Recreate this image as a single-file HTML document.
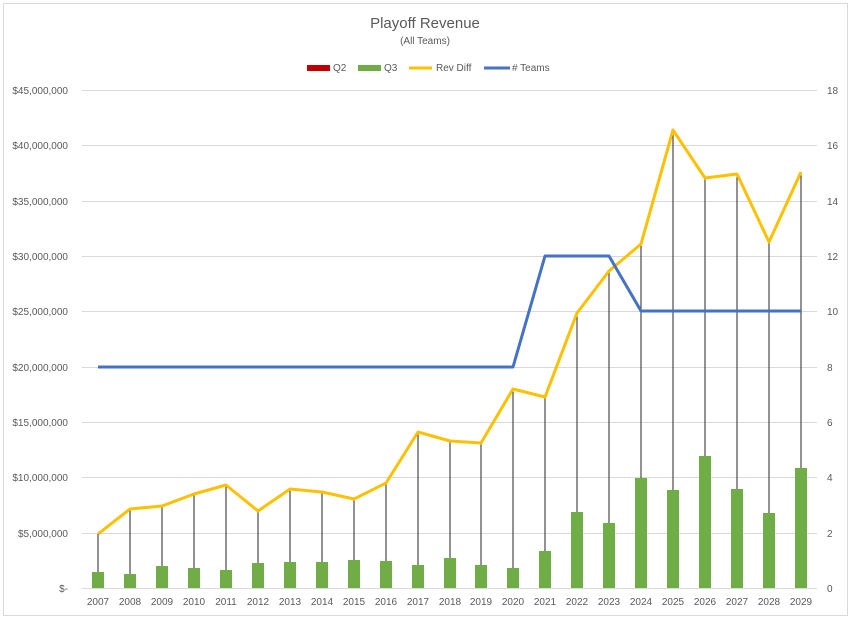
<!DOCTYPE html>
<html><head><meta charset="utf-8"><style>
body{margin:0;background:#fff}
svg text{font-family:"Liberation Sans",sans-serif;fill:#595959}
</style></head><body>
<svg width="851" height="619" viewBox="0 0 851 619" xmlns="http://www.w3.org/2000/svg">
<rect x="3.5" y="3.5" width="844" height="612" fill="#fff" stroke="#d9d9d9"/>
<text x="425" y="28" font-size="15" text-anchor="middle">Playoff Revenue</text>
<text x="425" y="44" font-size="10" text-anchor="middle">(All Teams)</text>
<rect x="307" y="65" width="23" height="6" fill="#c00000"/><text x="333" y="71" font-size="10">Q2</text>
<rect x="358" y="65" width="23" height="6" fill="#70ad47"/><text x="384" y="71" font-size="10">Q3</text>
<line x1="409" y1="68" x2="432" y2="68" stroke="#ffc000" stroke-width="3"/><text x="436" y="71" font-size="10">Rev Diff</text>
<line x1="484" y1="68" x2="510" y2="68" stroke="#4472c4" stroke-width="3"/><text x="512" y="71" font-size="10"># Teams</text>
<g stroke="#d9d9d9" stroke-width="1">
<line x1="82" x2="817" y1="90.5" y2="90.5"/><line x1="82" x2="817" y1="145.5" y2="145.5"/><line x1="82" x2="817" y1="201.5" y2="201.5"/><line x1="82" x2="817" y1="256.5" y2="256.5"/><line x1="82" x2="817" y1="311.5" y2="311.5"/><line x1="82" x2="817" y1="367.5" y2="367.5"/><line x1="82" x2="817" y1="422.5" y2="422.5"/><line x1="82" x2="817" y1="477.5" y2="477.5"/><line x1="82" x2="817" y1="533.5" y2="533.5"/><line x1="82" x2="817" y1="588.5" y2="588.5"/>
</g>
<g font-size="10" text-anchor="end">
<text x="68" y="94">$45,000,000</text><text x="68" y="149">$40,000,000</text><text x="68" y="205">$35,000,000</text><text x="68" y="260">$30,000,000</text><text x="68" y="315">$25,000,000</text><text x="68" y="371">$20,000,000</text><text x="68" y="426">$15,000,000</text><text x="68" y="481">$10,000,000</text><text x="68" y="537">$5,000,000</text><text x="68" y="592">$-</text>
</g>
<g font-size="10">
<text x="827" y="94">18</text><text x="827" y="149">16</text><text x="827" y="205">14</text><text x="827" y="260">12</text><text x="827" y="315">10</text><text x="827" y="371">8</text><text x="827" y="426">6</text><text x="827" y="481">4</text><text x="827" y="537">2</text><text x="827" y="592">0</text>
</g>
<g stroke="#262626" stroke-width="1">
<line x1="98" x2="98" y1="534" y2="588"/><line x1="130" x2="130" y1="509" y2="588"/><line x1="162" x2="162" y1="506" y2="588"/><line x1="194" x2="194" y1="494" y2="588"/><line x1="226" x2="226" y1="485" y2="588"/><line x1="258" x2="258" y1="511" y2="588"/><line x1="290" x2="290" y1="489" y2="588"/><line x1="322" x2="322" y1="492" y2="588"/><line x1="354" x2="354" y1="499" y2="588"/><line x1="386" x2="386" y1="483" y2="588"/><line x1="418" x2="418" y1="432" y2="588"/><line x1="450" x2="450" y1="441" y2="588"/><line x1="481" x2="481" y1="443" y2="588"/><line x1="513" x2="513" y1="389" y2="588"/><line x1="545" x2="545" y1="397" y2="588"/><line x1="577" x2="577" y1="313" y2="588"/><line x1="609" x2="609" y1="271" y2="588"/><line x1="641" x2="641" y1="244" y2="588"/><line x1="673" x2="673" y1="130" y2="588"/><line x1="705" x2="705" y1="178" y2="588"/><line x1="737" x2="737" y1="174" y2="588"/><line x1="769" x2="769" y1="242" y2="588"/><line x1="801" x2="801" y1="172" y2="588"/>
</g>
<g fill="#70ad47">
<rect x="92" y="572" width="12" height="16"/><rect x="124" y="574" width="12" height="14"/><rect x="156" y="566" width="12" height="22"/><rect x="188" y="568" width="12" height="20"/><rect x="220" y="570" width="12" height="18"/><rect x="252" y="563" width="12" height="25"/><rect x="284" y="562" width="12" height="26"/><rect x="316" y="562" width="12" height="26"/><rect x="348" y="560" width="12" height="28"/><rect x="380" y="561" width="12" height="27"/><rect x="412" y="565" width="12" height="23"/><rect x="444" y="558" width="12" height="30"/><rect x="475" y="565" width="12" height="23"/><rect x="507" y="568" width="12" height="20"/><rect x="539" y="551" width="12" height="37"/><rect x="571" y="512" width="12" height="76"/><rect x="603" y="523" width="12" height="65"/><rect x="635" y="478" width="12" height="110"/><rect x="667" y="490" width="12" height="98"/><rect x="699" y="456" width="12" height="132"/><rect x="731" y="489" width="12" height="99"/><rect x="763" y="513" width="12" height="75"/><rect x="795" y="468" width="12" height="120"/>
</g>
<polyline fill="none" stroke="#ffc000" stroke-width="3" stroke-linejoin="round" points="98,534 130,509 162,506 194,494 226,485 258,511 290,489 322,492 354,499 386,483 418,432 450,441 481,443 513,389 545,397 577,313 609,271 641,244 673,130 705,178 737,174 769,242 801,172"/>
<polyline fill="none" stroke="#4472c4" stroke-width="3" stroke-linejoin="round" points="98,367 513,367 545,256 609,256 641,311 801,311"/>
<g font-size="10" text-anchor="middle">
<text x="98" y="605">2007</text><text x="130" y="605">2008</text><text x="162" y="605">2009</text><text x="194" y="605">2010</text><text x="226" y="605">2011</text><text x="258" y="605">2012</text><text x="290" y="605">2013</text><text x="322" y="605">2014</text><text x="354" y="605">2015</text><text x="386" y="605">2016</text><text x="418" y="605">2017</text><text x="450" y="605">2018</text><text x="481" y="605">2019</text><text x="513" y="605">2020</text><text x="545" y="605">2021</text><text x="577" y="605">2022</text><text x="609" y="605">2023</text><text x="641" y="605">2024</text><text x="673" y="605">2025</text><text x="705" y="605">2026</text><text x="737" y="605">2027</text><text x="769" y="605">2028</text><text x="801" y="605">2029</text>
</g>
</svg>
</body></html>
